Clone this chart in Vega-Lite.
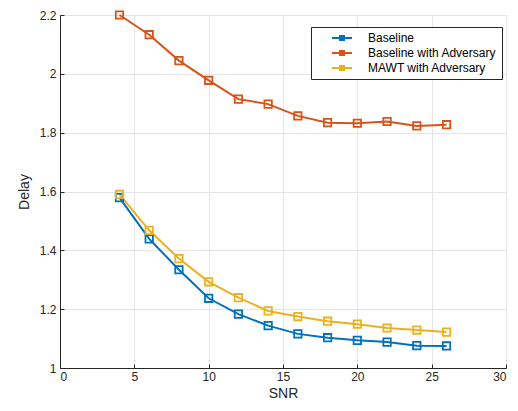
{
  "$schema": "https://vega.github.io/schema/vega-lite/v6.json",
  "width": 446,
  "height": 353,
  "autosize": {"type": "none"},
  "padding": {"left": 60, "top": 15, "right": 12, "bottom": 43},
  "background": "white",
  "config": {
    "font": "Liberation Sans",
    "view": {"stroke": "#d9d9d9", "strokeWidth": 1},
    "axis": {
      "domainColor": "#262626",
      "tickColor": "#262626",
      "gridColor": "#e6e6e6",
      "labelColor": "#262626",
      "titleColor": "#262626",
      "labelFontSize": 12,
      "titleFontSize": 14,
      "titleFontWeight": "normal"
    }
  },
  "data": {
    "values": [
      {"snr": 4, "delay": 1.579, "series": "Baseline"},
      {"snr": 6, "delay": 1.439, "series": "Baseline"},
      {"snr": 8, "delay": 1.334, "series": "Baseline"},
      {"snr": 10, "delay": 1.237, "series": "Baseline"},
      {"snr": 12, "delay": 1.183, "series": "Baseline"},
      {"snr": 14, "delay": 1.144, "series": "Baseline"},
      {"snr": 16, "delay": 1.116, "series": "Baseline"},
      {"snr": 18, "delay": 1.103, "series": "Baseline"},
      {"snr": 20, "delay": 1.094, "series": "Baseline"},
      {"snr": 22, "delay": 1.088, "series": "Baseline"},
      {"snr": 24, "delay": 1.076, "series": "Baseline"},
      {"snr": 26, "delay": 1.075, "series": "Baseline"},
      {"snr": 4, "delay": 2.2, "series": "Baseline with Adversary"},
      {"snr": 6, "delay": 2.133, "series": "Baseline with Adversary"},
      {"snr": 8, "delay": 2.045, "series": "Baseline with Adversary"},
      {"snr": 10, "delay": 1.978, "series": "Baseline with Adversary"},
      {"snr": 12, "delay": 1.914, "series": "Baseline with Adversary"},
      {"snr": 14, "delay": 1.897, "series": "Baseline with Adversary"},
      {"snr": 16, "delay": 1.857, "series": "Baseline with Adversary"},
      {"snr": 18, "delay": 1.834, "series": "Baseline with Adversary"},
      {"snr": 20, "delay": 1.832, "series": "Baseline with Adversary"},
      {"snr": 22, "delay": 1.838, "series": "Baseline with Adversary"},
      {"snr": 24, "delay": 1.823, "series": "Baseline with Adversary"},
      {"snr": 26, "delay": 1.827, "series": "Baseline with Adversary"},
      {"snr": 4, "delay": 1.59, "series": "MAWT with Adversary"},
      {"snr": 6, "delay": 1.468, "series": "MAWT with Adversary"},
      {"snr": 8, "delay": 1.372, "series": "MAWT with Adversary"},
      {"snr": 10, "delay": 1.293, "series": "MAWT with Adversary"},
      {"snr": 12, "delay": 1.239, "series": "MAWT with Adversary"},
      {"snr": 14, "delay": 1.194, "series": "MAWT with Adversary"},
      {"snr": 16, "delay": 1.175, "series": "MAWT with Adversary"},
      {"snr": 18, "delay": 1.159, "series": "MAWT with Adversary"},
      {"snr": 20, "delay": 1.149, "series": "MAWT with Adversary"},
      {"snr": 22, "delay": 1.136, "series": "MAWT with Adversary"},
      {"snr": 24, "delay": 1.129, "series": "MAWT with Adversary"},
      {"snr": 26, "delay": 1.122, "series": "MAWT with Adversary"}
    ]
  },
  "encoding": {
    "x": {
      "field": "snr", "type": "quantitative", "title": "SNR",
      "scale": {"domain": [0, 30], "nice": false, "zero": false},
      "axis": {"values": [0, 5, 10, 15, 20, 25, 30], "tickSize": -4, "labelPadding": 7, "titlePadding": 4}
    },
    "y": {
      "field": "delay", "type": "quantitative", "title": "Delay",
      "scale": {"domain": [1, 2.2], "nice": false, "zero": false},
      "axis": {"values": [1, 1.2, 1.4, 1.6, 1.8, 2, 2.2], "format": "~g", "tickSize": -4, "labelPadding": 8, "titlePadding": 8}
    },
    "color": {
      "field": "series", "type": "nominal",
      "scale": {
        "domain": ["Baseline", "Baseline with Adversary", "MAWT with Adversary"],
        "range": ["#0072BD", "#D95319", "#EDB120"]
      }
    }
  },
  "layer": [
    {
      "mark": {"type": "line", "strokeWidth": 2},
      "encoding": {
        "color": {
          "field": "series", "type": "nominal",
          "legend": {
            "title": null,
            "orient": "none",
            "legendX": 251,
            "legendY": 12,
            "fillColor": "white",
            "strokeColor": "#262626",
            "padding": 5,
            "labelFontSize": 12,
            "labelColor": "#000000",
            "symbolType": "M-4,0H4M-0.8,-0.8H0.8V0.8H-0.8Z",
            "symbolSize": 25,
            "symbolStrokeWidth": 2,
            "symbolFillColor": "transparent",
            "symbolOffset": 20,
            "labelOffset": 20,
            "rowPadding": 3
          }
        }
      }
    },
    {
      "mark": {"type": "point", "shape": "square", "filled": false, "size": 55, "strokeWidth": 1.8, "opacity": 1},
      "encoding": {}
    }
  ]
}
